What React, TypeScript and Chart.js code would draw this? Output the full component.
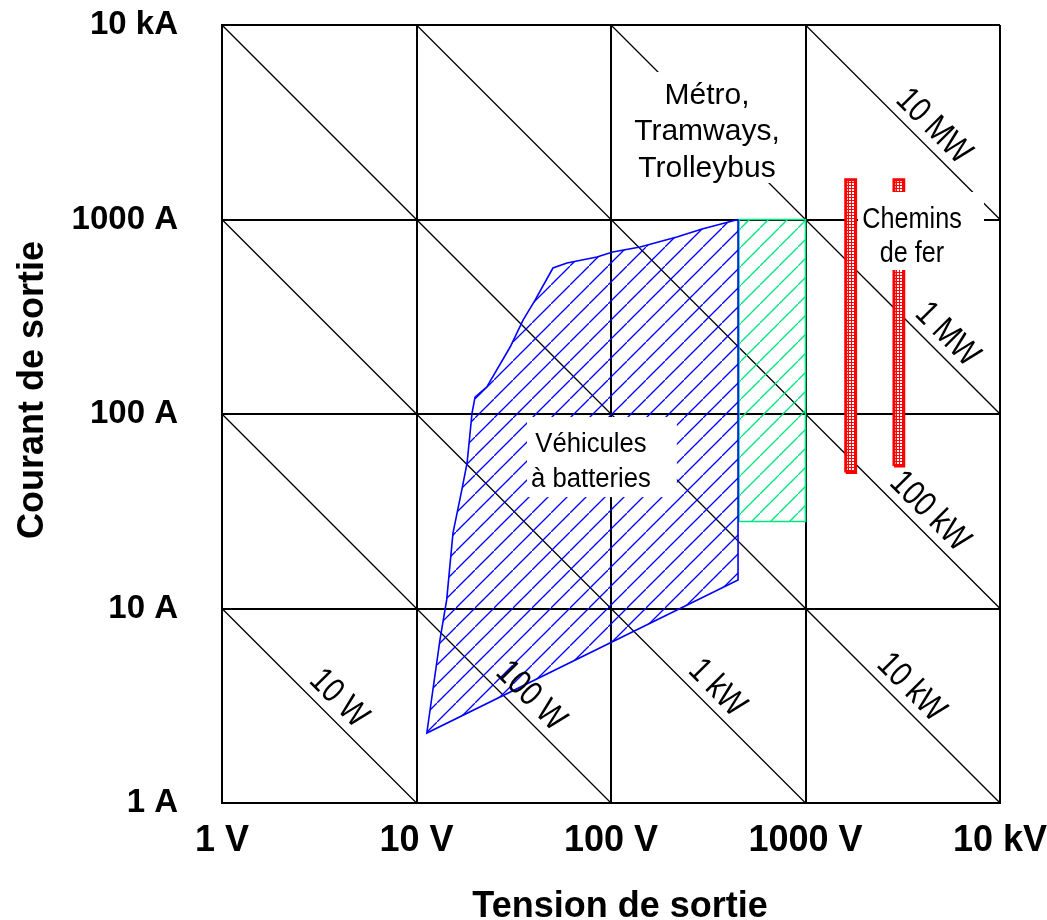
import React, { useEffect, useRef } from "react";
import { Chart, registerables } from "chart.js";

Chart.register(...registerables);

// ---------- data ----------
const decades = [1, 10, 100, 1000, 10000];
const voltageTickLabels = ["1 V", "10 V", "100 V", "1000 V", "10 kV"];
const currentTickLabels = ["1 A", "10 A", "100 A", "1000 A", "10 kA"];
const xTitle = "Tension de sortie";
const yTitle = "Courant de sortie";

const powerValues = [10, 100, 1e3, 1e4, 1e5, 1e6, 1e7];
const powerLabels = ["10 W", "100 W", "1 kW", "10 kW", "100 kW", "1 MW", "10 MW"];
const powerLabelVoltages = [3.4, 33, 300, 2985, 3715, 4571, 3890];

const batteryVoltages = [450, 294, 218, 141, 102, 84.7, 59.4, 50.3, 40.7, 35.3, 30.3, 23.0, 20.0, 19.3, 18.2, 17.1, 15.4, 14.3, 13.2, 11.3, 450, 450];
const batteryCurrents = [1000, 894, 813, 722, 681, 641, 597, 563, 385, 304, 221, 138, 122, 101, 56, 40.7, 24.4, 11.1, 6.89, 2.29, 14.0, 1000];

const transitVoltages = [455, 1000, 1000, 455, 455];
const transitCurrents = [28, 28, 1000, 1000, 28];

const rail1500Voltages = [1610, 1810, 1810, 1610, 1610];
const rail1500Currents = [50, 50, 1600, 1600, 50];

const rail3000Voltages = [2850, 3200, 3200, 2850, 2850];
const rail3000Currents = [54, 54, 1600, 1600, 54];

// annotation boxes: [vMin, vMax, iMin, iMax] in data units, text anchor (v, i) = centre x / first baseline
const annotations = [
  { lines: ["Métro,", "Tramways,", "Trolleybus"], v: 311.6, i: 3926, spacing: 36.5, size: 30, sx: 1, box: [122, 785, 1541, 5730] },
  { lines: ["Chemins", "de fer"], v: 3530, i: 904, spacing: 34, size: 30, sx: 0.84, box: [1862, 8275, 550, 1385] },
  { lines: ["Véhicules", "à batteries"], v: 78.9, i: 63.8, spacing: 35, size: 27, sx: 0.95, box: [37, 218, 37.4, 96.5] },
];

const FONT = "'Liberation Sans', Arial, sans-serif";

function pts(vs: number[], is: number[]) {
  return vs.map((v, k) => ({ x: v, y: is[k] }));
}

function hatch(color: string) {
  const c = document.createElement("canvas");
  c.width = 19;
  c.height = 19;
  const g = c.getContext("2d")!;
  g.strokeStyle = color;
  g.lineWidth = 1.3;
  g.beginPath();
  g.moveTo(-1, 20);
  g.lineTo(20, -1);
  g.stroke();
  return g.createPattern(c, "repeat")!;
}

function dotted() {
  const c = document.createElement("canvas");
  c.width = 3;
  c.height = 3;
  const g = c.getContext("2d")!;
  g.fillStyle = "#ff0000";
  g.fillRect(0, 0, 3, 3);
  g.fillStyle = "#ffffff";
  g.fillRect(0, 0, 2, 2);
  return g.createPattern(c, "repeat")!;
}

const overlay = {
  id: "overlay",
  afterDatasetsDraw(chart: any) {
    const ctx = chart.ctx as CanvasRenderingContext2D;
    const xs = chart.scales.x;
    const ys = chart.scales.y;
    ctx.save();
    // power labels
    ctx.fillStyle = "#000";
    powerLabels.forEach((lab, k) => {
      const v = powerLabelVoltages[k];
      const cur = powerValues[k] / v;
      const px = xs.getPixelForValue(v);
      const py = ys.getPixelForValue(cur);
      const off = 9;
      ctx.save();
      ctx.translate(px + off / Math.SQRT2, py - off / Math.SQRT2);
      ctx.rotate(Math.PI / 4);
      ctx.scale(0.82, 1);
      ctx.font = `35px ${FONT}`;
      ctx.textAlign = "center";
      ctx.textBaseline = "alphabetic";
      ctx.fillText(lab, 0, 0);
      ctx.restore();
    });
    // annotation boxes
    annotations.forEach((a) => {
      const x0 = xs.getPixelForValue(a.box[0]);
      const x1 = xs.getPixelForValue(a.box[1]);
      const y0 = ys.getPixelForValue(a.box[3]);
      const y1 = ys.getPixelForValue(a.box[2]);
      ctx.fillStyle = "#fff";
      ctx.fillRect(x0, y0, x1 - x0, y1 - y0);
      ctx.fillStyle = "#000";
      const cx = xs.getPixelForValue(a.v);
      const by = ys.getPixelForValue(a.i);
      a.lines.forEach((t, j) => {
        ctx.save();
        ctx.translate(cx, by + j * a.spacing);
        ctx.scale(a.sx, 1);
        ctx.font = `${a.size}px ${FONT}`;
        ctx.textAlign = "center";
        ctx.textBaseline = "alphabetic";
        ctx.fillText(t, 0, 0);
        ctx.restore();
      });
    });
    ctx.restore();
  },
  afterDraw(chart: any) {
    const ctx = chart.ctx as CanvasRenderingContext2D;
    const area = chart.chartArea;
    ctx.save();
    ctx.fillStyle = "#000";
    ctx.font = `bold 36px ${FONT}`;
    ctx.textAlign = "center";
    ctx.textBaseline = "alphabetic";
    ctx.fillText(xTitle, (area.left + area.right) / 2 + 9, 917);
    ctx.translate(43, (area.top + area.bottom) / 2 - 24);
    ctx.rotate(-Math.PI / 2);
    ctx.fillText(yTitle, 0, 0);
    ctx.restore();
  },
};

export default function App() {
  const ref = useRef<HTMLCanvasElement>(null);

  useEffect(() => {
    const canvas = ref.current!;
    const blue = hatch("#0000ff");
    const green = hatch("#00e67f");
    const red = dotted();

    const powerLines = powerValues.map((p) => {
      const vMin = Math.max(1, p / 10000);
      const vMax = Math.min(10000, p);
      return {
        data: [
          { x: vMin, y: p / vMin },
          { x: vMax, y: p / vMax },
        ],
        showLine: true,
        borderColor: "#000",
        borderWidth: 1.3,
        pointRadius: 0,
        fill: false,
      };
    });

    const chart = new Chart(canvas, {
      type: "scatter",
      data: {
        datasets: [
          {
            data: pts(batteryVoltages, batteryCurrents),
            showLine: true,
            fill: "shape",
            backgroundColor: blue,
            borderColor: "#0000ff",
            borderWidth: 1.6,
            pointRadius: 0,
          },
          {
            data: pts(transitVoltages, transitCurrents),
            showLine: true,
            fill: "shape",
            backgroundColor: green,
            borderColor: "#00e67f",
            borderWidth: 1.6,
            pointRadius: 0,
          },
          {
            data: pts(rail1500Voltages, rail1500Currents),
            showLine: true,
            fill: "shape",
            backgroundColor: red,
            borderColor: "#ff0000",
            borderWidth: 3,
            pointRadius: 0,
          },
          {
            data: pts(rail3000Voltages, rail3000Currents),
            showLine: true,
            fill: "shape",
            backgroundColor: red,
            borderColor: "#ff0000",
            borderWidth: 3,
            pointRadius: 0,
          },
          ...powerLines,
        ] as any,
      },
      options: {
        animation: false,
        responsive: false,
        events: [],
        layout: { padding: { left: 0, right: 47, top: 25, bottom: 0 } },
        plugins: {
          legend: { display: false },
          tooltip: { enabled: false },
        },
        scales: {
          x: {
            type: "logarithmic",
            min: 1,
            max: 10000,
            afterBuildTicks: (axis: any) => {
              axis.ticks = decades.map((v) => ({ value: v }));
            },
            afterFit: (s: any) => {
              s.height = 117;
              s.paddingLeft = 0;
              s.paddingRight = 0;
            },
            grid: { color: "#000", lineWidth: 2, drawTicks: false },
            border: { display: true, color: "#000", width: 2 },
            ticks: {
              autoSkip: false,
              maxRotation: 0,
              minRotation: 0,
              padding: 16,
              color: "#000",
              font: { family: FONT, size: 36, weight: "bold" },
              callback: (_v: any, idx: number) => voltageTickLabels[idx],
            },
          },
          y: {
            type: "logarithmic",
            min: 1,
            max: 10000,
            afterBuildTicks: (axis: any) => {
              axis.ticks = decades.map((v) => ({ value: v }));
            },
            afterFit: (s: any) => {
              s.width = 222;
              s.paddingTop = 0;
              s.paddingBottom = 0;
            },
            grid: { color: "#000", lineWidth: 2, drawTicks: false },
            border: { display: true, color: "#000", width: 2 },
            ticks: {
              autoSkip: false,
              padding: 44,
              color: "#000",
              font: { family: FONT, size: 33, weight: "bold" },
              callback: (_v: any, idx: number) => currentTickLabels[idx],
            },
          },
        },
      } as any,
      plugins: [overlay],
    });

    return () => chart.destroy();
  }, []);

  return (
    <div style={{ position: "absolute", left: 0, top: 0, background: "#fff" }}>
      <canvas ref={ref} width={1047} height={920} style={{ display: "block" }} />
    </div>
  );
}
